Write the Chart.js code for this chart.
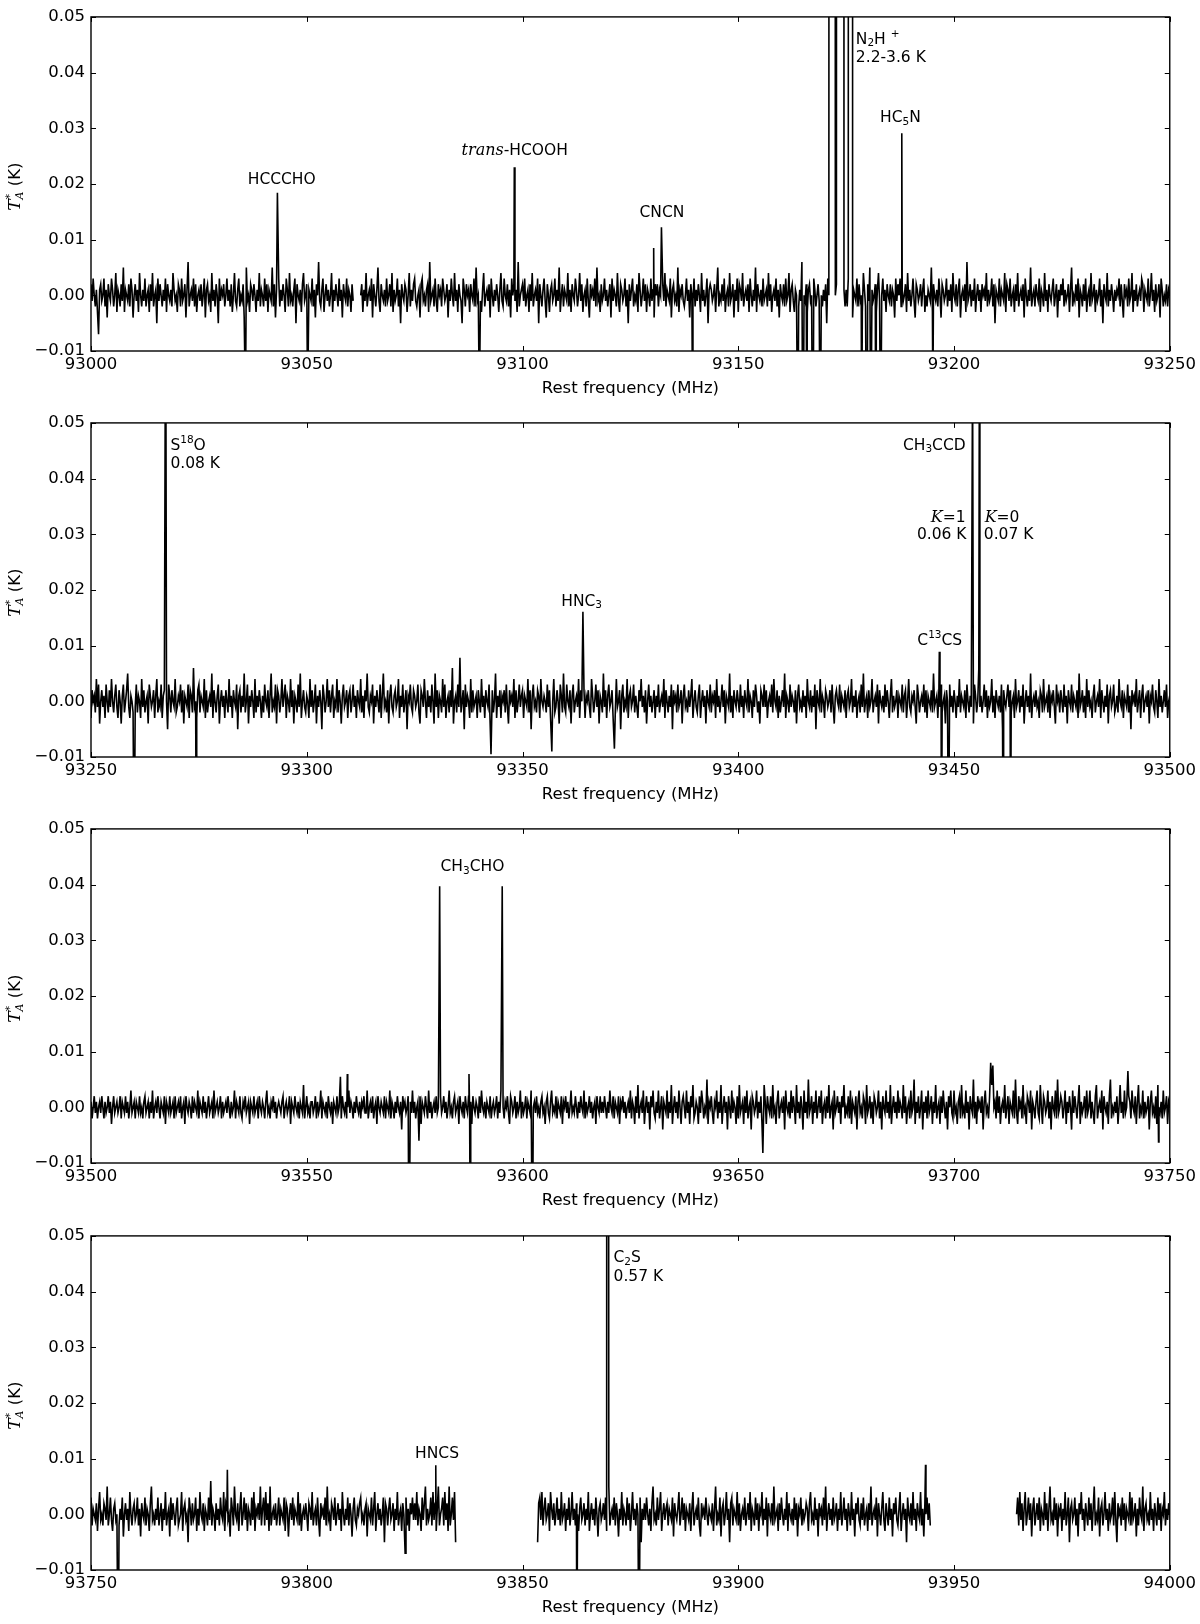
<!DOCTYPE html>
<html>
<head>
<meta charset="utf-8">
<title>Line survey 93.0 - 94.0 GHz</title>
<script src="https://cdn.jsdelivr.net/npm/chart.js@4.4.0/dist/chart.umd.min.js"></script>
<style>
html, body { margin: 0; padding: 0; background: #fff; overflow: hidden; }
.panel { position: absolute; left: 0; width: 1200px; height: 406px; }
</style>
</head>
<body>
<div class="panel" style="top:1px"><canvas id="c1" width="1200" height="406"></canvas></div>
<div class="panel" style="top:407px"><canvas id="c2" width="1200" height="406"></canvas></div>
<div class="panel" style="top:813px"><canvas id="c3" width="1200" height="406"></canvas></div>
<div class="panel" style="top:1220px"><canvas id="c4" width="1200" height="406"></canvas></div>
<script>
var STEP = 0.25; // channel spacing in MHz, noise values below are in mK

// ---- panel 1 : 93000 - 93250 MHz
var p1Range = [93000, 93250];
var p1StartA = 93000;
var p1NoiseA = [
  2,-1,3,0,-2,1,-3,-7,1,2,-1,0,3,-2,1,-4,2,0,-1,3,1,-2,0,4,-3,
  1,0,-2,2,-1,5,-3,1,0,-1,2,-2,3,1,-4,0,2,-1,1,-3,4,0,-2,1,-1,
  3,-2,0,1,-3,2,-1,4,-2,0,1,-5,3,-1,2,0,-2,1,-1,3,-3,2,0,-1,1,
  -2,4,1,-1,0,-3,2,1,-2,3,-1,0,2,-4,1,6,-2,0,1,-1,3,-2,2,-3,0,
  1,-1,2,-2,0,3,-4,1,2,-1,0,-3,4,-1,1,-2,2,0,-5,3,-1,1,0,2,-2,
  0,3,-1,1,-2,2,-3,0,4,-1,-2,1,3,-2,0,-1,2,-4,1,5,-1,0,-3,2,1,
  -1,2,0,-3,1,-1,4,-2,1,0,-2,3,-1,2,-3,1,0,-1,5,-2,2,-4,1,0,3,
  -2,1,-1,2,0,-3,3,1,-2,4,-1,0,-2,1,3,-5,2,0,-1,1,-3,2,4,-1,0,
  2,-3,1,0,-1,3,-2,1,-4,2,0,6,-1,-2,1,3,-3,0,2,-1,1,-2,0,4,-3,
  1,-1,2,0,-2,3,-1,1,-4,2,0,-1,3,-2,1,0,-3,2,-1
];
var p1StartB = 93062.5;
var p1NoiseB = [
  0,2,-3,1,-1,4,-2,0,1,-1,3,-4,2,0,-2,1,5,-1,-3,2,0,-1,1,-2,3,
  -1,0,2,-2,4,-3,1,-1,0,3,-2,1,-5,2,0,-1,2,1,-3,0,4,-2,1,-1,2,
  3,-1,-2,0,1,-4,2,3,-1,0,-2,1,2,-3,6,-1,0,1,-2,3,-1,-3,2,0,1,
  -2,3,1,-1,0,2,-4,1,-1,3,0,-2,4,-1,1,-3,2,0,-1,-5,3,1,-2,2,0,
  1,-3,2,0,-1,3,-2,5,-1,0,2,-1,-3,1,4,-2,0,1,-1,2,-4,3,0,-2,1,
  -1,2,0,-3,1,4,-1,-2,3,0,-1,2,-2,1,-4,3,0,2,-1,1,-3,6,-2,0,1,
  2,-1,3,-2,0,1,-3,2,-1,4,-2,0,1,-1,3,-5,2,0,-2,1,3,-1,-4,2,0,
  -3,1,2,-1,0,3,-2,1,-1,5,-3,0,2,-2,1,0,-1,4,-2,1,-3,2,0,-1,3,
  1,-2,0,4,-1,2,-3,0,1,-2,3,-1,-4,2,0,1,-1,3,-2,5,-1,0,-3,2,-1,
  0,3,-1,1,-2,0,2,-4,3,-1,1,0,-2,4,-1,-3,2,1,-1,0,3,-2,1,-5,2,
  -1,1,3,-2,0,-1,2,-3,4,1,-2,0,3,-1,2,-3,1,0,-2,3,-1,1,-4,2,0,
  2,-2,1,0,-3,2,-1,4,-2,1,0,-1,3,-4,1,2,-1,0,-2,5,-3,1,0,2,-1,
  -2,0,3,-1,1,-4,2,0,-1,3,-2,1,-1,2,0,-3,4,-1,1,-2,0,3,-5,1,2,
  1,-1,0,2,-3,1,5,-2,0,-1,2,-1,3,-3,0,1,-2,4,-1,0,2,-4,1,-1,3,
  -3,2,1,-1,4,-2,0,1,-1,2,-3,3,0,-2,1,-1,5,-3,2,0,-1,1,-2,3,-1,
  0,1,-2,4,-1,2,-3,0,1,-1,3,-2,1,-4,2,0,-1,2,-2,3,-1,0,4,-3,1,
  2,-1,-3,1,0,3,-2,1,-1,6,-2,0,-1,2,-3,1,2,-1,0,-4,3,1,-2,0,2,
  -1,3,0,-2,1,-1,2,-5,3,0,-1,1,-2,4,-1,0,2,-3,1,-1,3,-2,0,1,-2,
  1,-2,3,-1,0,2,-4,1,0,-1,3,-2,2,-1,0,-3,4,1,-2,0,2,-1,5,-3,1,
  -1,0,2,-3,1,4,-1,-2,0,3,-1,1,-3,2,0,-1,2,-2,1,0,-4,3,-1,2,0,
  3,-2,1,-1,0,2,-3,4,-1,1,-2,0,3,-1,-4,2,1,-1,0,2,-2,1,3,-3,0,
  -2,1,0,-1,5,-3,2,0,-1,1,-2,3,0,-4,2,1,-1,0,3,-2,1,-1,2,-3,4,
  0,-1,2,-2,1,3,-4,0,1,-1,2,-3,6,-1,0,2,-2,1,-1,3,-3,0,2,-1,1,
  -3,2,0,1,-1,4,-2,1,-1,0,3,-2,2,-5,1,0,-1,3,-2,1,0,-1,4,-3,2,
  1,-1,3,-2,0,1,-3,2,-1,4,-2,0,1,-1,2,-4,3,0,-2,1,-1,5,-2,0,1,
  -2,2,0,-1,3,-3,1,0,-2,4,-1,1,-3,2,0,-1,1,3,-2,0,2,-4,1,-1,2,
  0,3,-2,1,-1,0,2,-3,1,5,-2,0,-1,2,-1,3,-4,1,0,-2,2,-1,3,-3,0,
  1,-2,4,-1,0,2,-3,1,-1,0,3,-2,1,-5,2,0,-1,4,-2,1,-1,2,0,-3,1,
  -1,1,0,3,-2,2,-1,-4,2,0,1,-2,3,-1,0,4,-3,1,-1,2,-2,0,1,-1,3,
  2,-3,1,0,-1,3,-2,0,4,-1,1,-3,2,-1,0,2,-4,3,1,-2,0,-1,2,-2,1,
  0
];
// lines and frequency-switching ghosts: [[MHz, K], ...]
var p1Lines = [
  [[93035.8, -0.02]], [[93043.2, 0.0184]], [[93050.2, -0.02]],
  [[93090.0, -0.02]], [[93098.1, 0.023]],
  [[93132.2, 0.0122]], [[93139.4, -0.02]],
  [[93163.8, -0.03]], [[93165.0, -0.04]], [[93165.9, -0.03]], [[93167.3, -0.04]], [[93169.0, -0.03]],
  [[93171.2, 1.0], [93171.7, 2.2], [93172.2, 1.0]],
  [[93173.0, 1.2], [93173.7, 2.8], [93174.3, 1.2]],
  [[93175.8, 2.0], [93176.05, 3.6], [93176.3, 2.0]],
  [[93178.6, -0.03]], [[93179.8, -0.04]], [[93180.7, -0.03]], [[93181.9, -0.04]], [[93183.0, -0.03]],
  [[93187.9, 0.0291]], [[93195.1, -0.02]]
];
var p1Spikes = [[[93130.4, 0.0085]]];
var p1Labels = [
  { x: 93044.2, y: 0.0208, align: 'center', parts: [['HCCCHO']] },
  { x: 93098.2, y: 0.0259, align: 'center', parts: [['trans', 'it'], ['-HCOOH']] },
  { x: 93132.3, y: 0.0148, align: 'center', parts: [['CNCN']] },
  { x: 93177.25, y: 0.0459, align: 'left', parts: [['N'], ['2', 'sub'], ['H '], ['+', 'sup']] },
  { x: 93177.25, y: 0.0426, align: 'left', parts: [['2.2-3.6 K']] },
  { x: 93187.6, y: 0.0318, align: 'center', parts: [['HC'], ['5', 'sub'], ['N']] }
];

// ---- panel 2 : 93250 - 93500 MHz
var p2Range = [93250, 93500];
var p2Start = 93250;
var p2Noise = [
  -3,2,0,1,-2,4,-1,3,-4,0,2,-1,1,-3,3,0,-2,2,-1,4,0,-2,1,3,-1,
  -3,2,0,-4,1,3,-2,0,2,5,-1,-3,1,0,-2,2,-1,3,-2,1,0,-3,4,-1,2,
  -2,0,1,-4,3,1,-1,0,2,-3,1,4,-2,0,-1,3,-3,1,2,-1,0,-5,3,1,-2,
  2,0,-1,4,-2,-1,1,0,3,-2,2,-4,1,0,-1,3,-3,2,1,-2,6,-1,0,-3,2,
  3,-2,1,0,-1,4,-3,2,-2,0,1,-1,5,-3,2,0,-2,1,3,-4,0,2,-1,1,-3,
  2,0,-2,4,-1,1,-3,2,0,-1,3,-5,1,2,-2,1,-1,5,-2,0,3,-4,1,-1,2,
  0,-3,4,-2,1,-1,2,0,-3,1,-2,3,0,-1,2,-3,1,5,-2,0,-1,3,-4,2,1,
  -2,0,4,-1,1,3,-3,1,0,-2,4,-1,2,-4,1,0,-2,3,-1,5,-3,0,2,-1,-2,
  1,0,-3,4,-1,2,-2,0,3,-4,1,-1,2,0,-5,3,1,-2,0,4,-1,2,-2,1,3,
  -3,0,-1,4,-2,2,0,-4,1,3,-1,0,2,-3,1,2,-2,0,3,-1,1,-3,2,0,-1,
  4,-2,1,-3,2,0,5,-1,-2,1,0,3,-4,1,-1,2,0,-2,3,-3,1,5,-1,0,-2,
  2,-4,1,3,-1,-2,1,2,-1,0,4,-3,1,-1,3,-2,0,2,-5,1,0,3,-1,-2,2,
  1,-1,0,3,-2,-4,2,1,-1,4,0,-3,2,-1,1,-2,3,0,-4,5,-1,2,-3,1,0,
  -2,4,-1,3,-3,0,1,-2,2,-1,6,-4,0,1,-2,3,-1,1,-2,0,2,-5,3,-1,1,
  0,-3,4,-2,2,-1,0,1,-3,2,0,-2,4,-1,1,-3,2,0,-1,3,-4,1,2,-2,0,
  5,-3,1,-1,2,-3,1,0,2,-2,3,-1,-4,2,0,1,-1,4,-3,2,-2,0,3,-1,1,
  2,-3,1,0,-1,4,-2,2,-5,1,3,-1,0,-2,2,1,-3,4,0,-1,1,0,-2,3,-1,
  2,-3,1,0,4,-2,-1,2,0,-4,3,1,-2,5,-1,-2,3,0,-1,2,-4,1,3,-2,0,
  1,-1,4,-3,2,0,-1,2,-3,1,0,2,-1,-3,4,1,-2,0,3,-1,2,-4,1,0,-2,
  5,-1,2,-3,1,3,-1,0,2,-3,1,-2,4,-1,0,2,-5,1,3,-2,0,-1,4,-3,1,
  2,-1,0,3,-2,1,-1,-3,2,0,4,-1,1,-2,2,-4,0,3,-1,1,-2,0,2,-3,1,
  -1,3,-2,0,1,-1,4,-3,2,0,-2,1,-1,3,-5,2,0,1,-2,3,-1,0,2,-4,1,
  3,-1,0,-2,2,-1,1,4,-3,0,2,-1,-2,1,3,-3,0,2,-1,1,-4,2,0,-1,3,
  -2,1,0,2,-3,4,-1,1,-2,0,3,-1,2,-4,1,0,-1,5,-2,1,-3,2,0,-1,2,
  0,-2,3,-1,1,-3,2,0,-1,4,-2,1,0,-3,2,-1,3,1,-2,0,-4,2,1,-1,3,
  -1,2,-3,0,1,-1,3,-2,4,0,-1,2,-3,1,-2,0,2,-1,5,-3,1,0,-2,3,-1,
  1,0,-2,2,-4,1,3,-1,0,-2,2,-1,1,-3,4,0,-1,2,-2,1,-1,3,-5,2,0,
  -1,4,-2,1,0,-3,2,1,-1,0,2,-2,3,-1,-4,1,2,0,-1,3,-2,1,0,-1,2,
  -3,1,2,-1,0,4,-2,1,-1,2,-3,0,1,-2,3,-1,5,-2,0,1,-3,2,-1,0,4,
  -2,0,1,-1,3,-4,2,0,-1,1,-2,3,-1,2,0,-3,1,4,-2,1,-1,0,2,-3,1,
  0,-1,3,-2,1,2,-3,0,4,-1,-2,1,0,2,-1,-4,3,1,-2,0,1,-1,3,-2,2,
  -3,1,0,-1,2,-2,5,-1,0,1,-3,2,-1,3,-2,0,1,-4,2,0,-1,3,-1,1,-2,
  2,0,-3,1,-1,4,-2,1,0,-1,2,-3,3,0,-2,1,-1,2,-4,3,1,-2,0,6,-1,
  1,-2,0,3,-1,2,-3,1,-1,0,4,-2,1,-3,2,0,-1,1,-2,3,-5,2,0,-1,1,
  3,-1,2,-2,0,1,-3,4,-1,0,2,-2,1,-1,3,-4,0,2,-1,1,-2,5,-3,0,1,
  -1,2,-1,0,-3,2,1,-2,4,-1,0,1,-2,3,-3,1,0,2,-1,-4,3,0,1,-2,2,
  0,-2,3,-1,1,-4,2,0,-1,3,-2,1,0,-1,2,-3,5,-1,0,2,-2,1,-3,4,-1,
  2,-1,0,-3,1,3,-2,0,1,-1,4,-3,2,0,-2,1,-1,3,-4,1,2,-1,0,3,-2,
  -1,1,-2,4,0,-1,2,-3,1,0,-1,3,-2,1,-5,2,0,1,-1,4,-2,0,2,-3,1,
  3,-2,0,1,-1,2,-4,1,0,3,-1,-2,2,0,-3,4,-1,1,-2,0,2,-1,3,-3,0,
  1
];
var p2Lines = [
  [[93260.0, -0.03]], [[93267.3, 0.08]], [[93274.4, -0.03]],
  [[93342.7, -0.0095]],
  [[93356.8, -0.009]], [[93364.0, 0.0161]], [[93371.3, -0.0085]],
  [[93446.6, 0.0089]], [[93447.1, -0.03]], [[93448.7, -0.03]],
  [[93454.3, 0.06]], [[93455.9, 0.07]],
  [[93461.4, -0.03]], [[93463.1, -0.03]]
];
var p2Spikes = [[[93335.5, 0.0078]]];
var p2Labels = [
  { x: 93268.4, y: 0.0459, align: 'left', parts: [['S'], ['18', 'sup'], ['O']] },
  { x: 93268.4, y: 0.0426, align: 'left', parts: [['0.08 K']] },
  { x: 93363.7, y: 0.0179, align: 'center', parts: [['HNC'], ['3', 'sub']] },
  { x: 93446.7, y: 0.0109, align: 'center', parts: [['C'], ['13', 'sup'], ['CS']] },
  { x: 93452.7, y: 0.0459, align: 'right', parts: [['CH'], ['3', 'sub'], ['CCD']] },
  { x: 93452.7, y: 0.0329, align: 'right', parts: [['K', 'it'], ['=1']] },
  { x: 93452.9, y: 0.0298, align: 'right', parts: [['0.06 K']] },
  { x: 93457.1, y: 0.0329, align: 'left', parts: [['K', 'it'], ['=0']] },
  { x: 93456.9, y: 0.0298, align: 'left', parts: [['0.07 K']] }
];

// ---- panel 3 : 93500 - 93750 MHz
var p3Range = [93500, 93750];
var p3Start = 93500;
var p3Noise = [
  1,-2,0,2,-1,1,-2,0,1,-1,2,0,-2,1,-1,0,2,-1,1,-3,0,2,-1,0,1,
  -1,0,2,-2,1,0,-1,2,-1,1,-2,0,3,-1,0,1,-2,1,0,-1,2,-1,0,-2,1,
  2,-1,0,1,-2,1,-1,3,-2,0,1,-1,2,0,-2,1,0,-1,2,-3,1,0,-1,2,-1,
  0,1,-2,2,-1,0,1,-1,2,-2,0,1,-3,2,0,-1,1,0,-2,2,-1,1,0,-1,3,
  -2,1,0,-1,2,-1,1,-2,0,2,-1,0,1,-2,3,-1,0,1,-1,0,2,-2,1,-1,0,
  1,-1,2,0,-2,1,-1,0,3,-2,1,0,-1,2,-1,-2,1,0,2,-1,0,1,-3,1,0,
  -1,2,-1,0,1,-2,2,0,-1,1,0,-2,1,3,-1,0,-2,1,0,2,-1,1,-2,0,1,
  0,-1,1,2,-2,0,1,-1,0,2,-3,1,0,-1,2,0,-1,1,-2,1,0,-1,4,-2,0,
  2,-1,0,-2,1,1,-1,0,2,-2,1,-1,0,3,-2,1,0,-1,1,-2,2,0,-1,1,-3,
  1,0,-1,2,-1,0,1,-2,2,0,-1,1,-2,0,3,-1,1,0,-2,1,-1,2,0,-1,1,
  -2,1,0,2,-1,-1,3,-2,0,1,-1,2,-2,0,1,-3,2,0,-1,1,0,-1,2,-2,1,
  0,-1,3,-2,1,0,-2,1,-1,2,0,-1,1,-4,2,0,1,-1,0,2,-2,1,-1,3,-1,
  1,-2,0,1,-1,2,-3,1,0,-1,2,0,-2,3,-1,1,-2,0,1,-1,2,-1,0,-2,2,
  -1,0,2,-1,1,-2,0,3,-1,0,-2,1,2,-1,0,1,-3,2,0,-1,1,-2,2,0,-1,
  2,-1,1,-3,2,0,-1,1,0,-2,2,-1,3,0,-1,1,-2,1,0,-1,2,-2,0,1,-1,
  0,2,-2,1,-1,3,-1,0,-2,1,0,2,-1,-3,2,1,-1,0,2,-2,1,-1,0,3,-2,
  1,-1,0,2,-2,1,0,-1,3,-2,0,1,-1,2,-1,0,-2,1,2,-1,0,-3,1,2,-1,
  -2,1,3,-1,0,-1,2,-2,1,0,-1,2,-3,1,0,2,-1,1,-2,0,3,-1,0,-1,2,
  0,-2,1,-1,2,0,-1,3,-2,1,-1,0,2,-1,1,-2,0,1,-3,2,0,-1,2,-1,1,
  -1,2,0,-2,1,-1,3,0,-1,2,-2,1,0,-1,2,-3,1,0,2,-1,1,-2,0,1,-1,
  3,-2,1,0,-3,2,-1,4,-2,0,1,-1,3,-3,0,2,-1,1,-4,2,0,3,-1,-2,1,
  -1,3,-2,0,2,-4,1,0,-1,3,-2,1,-1,4,-3,0,2,-1,1,-2,3,0,-3,1,2,
  0,-2,3,-1,1,-3,2,0,4,-2,-1,1,0,-3,2,-1,3,1,-2,0,-1,5,-3,1,0,
  2,-1,-3,1,0,3,-2,1,-1,4,-3,0,2,-1,1,-4,2,0,-2,3,-1,1,0,-3,2,
  -2,4,-1,0,1,-3,2,-1,3,-2,0,1,-4,2,1,-1,0,3,-2,1,-1,2,-3,0,4,
  1,-3,2,0,-1,2,-2,4,-1,0,-3,1,3,-2,0,1,-1,2,-4,3,0,-1,1,-2,3,
  -1,2,0,-3,4,-1,1,-2,2,0,-4,3,-1,1,-2,5,-1,0,2,-3,1,-1,3,-2,0,
  2,-1,3,-3,0,1,-2,2,-1,4,-2,0,1,-4,3,-1,0,2,-1,1,-3,2,0,4,-2,
  0,-1,2,-2,3,-3,1,0,-1,2,-4,1,3,-1,0,-2,2,1,-3,4,-1,0,2,-2,1,
  -3,2,1,-1,0,3,-2,1,-4,2,0,-1,3,-1,1,-2,4,-3,0,2,-1,1,-2,3,-1,
  1,0,-2,4,-1,2,-3,0,1,-2,3,-1,0,5,-3,1,-1,2,-2,0,3,-4,1,-1,2,
  -2,3,-1,0,2,-3,1,-1,4,-2,0,1,-3,2,-1,3,0,-2,1,-4,2,0,3,-1,-2,
  3,-1,0,-3,1,2,-2,4,-1,0,-2,3,-1,1,-4,2,0,-1,5,-2,1,-3,2,0,1,
  -1,2,-4,1,3,-1,0,-2,2,-1,4,-3,0,1,-2,3,-1,2,-3,0,1,-1,4,-2,0,
  2,-3,1,0,-1,3,-2,5,-1,-3,2,0,1,-2,4,-1,0,-3,2,1,-1,3,-4,1,0,
  -2,1,3,-1,-2,4,0,-3,2,1,-1,0,3,-2,1,-4,2,0,-1,3,-2,5,-1,0,2,
  1,-2,0,3,-3,1,-1,2,0,-4,3,-1,2,0,-2,1,4,-3,1,-1,0,2,-2,3,-1,
  0,3,-2,1,-1,-3,2,4,-2,0,1,-1,3,-4,2,0,-1,1,-3,2,5,-2,0,-1,1,
  -1,2,-3,0,4,-1,1,-2,3,-1,0,-4,2,1,-2,3,0,-1,2,-3,1,4,-2,0,-1,
  3,-2,1,-1,0,2,-4,1,3,-1,0,-2,2,-3,4,0,-1,1,-2,3,-1,0,2,-3,1,
  0
];
var p3Lines = [
  [[93573.7, -0.03]], [[93580.8, 0.0397]], [[93587.9, -0.03]],
  [[93595.3, 0.0397]], [[93602.3, -0.03]]
];
var p3Spikes = [
  [[93557.8, 0.0055]], [[93559.4, 0.006]], [[93576.0, -0.006]], [[93587.6, 0.006]],
  [[93655.7, -0.0082]], [[93708.5, 0.008]], [[93709.0, 0.0075]], [[93740.3, 0.0065]],
  [[93747.4, -0.0062]]
];
var p3Labels = [
  { x: 93588.4, y: 0.0431, align: 'center', parts: [['CH'], ['3', 'sub'], ['CHO']] }
];

// ---- panel 4 : 93750 - 94000 MHz
var p4Range = [93750, 94000];
var p4StartA = 93750;
var p4NoiseA = [
  3,-2,1,0,-1,2,-3,1,4,-1,0,-2,2,1,-1,5,-2,0,3,-1,-3,1,2,-1,0,
  2,-2,1,-1,3,-4,0,2,-1,1,-3,4,0,-2,1,2,-1,0,3,-2,1,-4,2,0,-1,
  3,-2,1,0,-3,2,5,-1,0,-2,1,-1,3,-2,0,2,-3,1,-1,4,-2,0,1,-4,3,
  -1,2,0,-2,1,3,-2,-1,0,4,-3,1,2,-1,0,-5,3,1,-2,2,-1,0,3,-3,1,
  -2,4,0,-1,2,-3,1,0,-2,3,-1,6,-2,1,0,-3,2,-1,1,-2,3,0,-1,4,-3,
  2,1,-1,0,-4,3,1,-2,5,0,-1,2,-3,1,4,-2,0,3,-1,2,-3,1,0,-2,3,
  -1,4,-3,1,0,2,-1,5,-2,1,3,-2,4,-1,2,-3,5,-2,0,1,-1,2,-2,0,3,
  -2,1,0,-1,3,-3,2,1,-4,0,2,-1,3,-2,1,0,-1,4,-2,2,-3,0,1,-1,2,
  0,-3,2,1,-1,4,-2,0,1,-2,3,-1,-4,2,0,1,-1,3,-2,5,-1,0,-3,2,1,
  -1,3,-2,0,2,-1,1,-3,4,0,-2,1,-1,3,-2,2,0,-4,1,3,-1,-2,1,0,2,
  3,-1,0,-2,1,2,-4,1,0,-1,3,-2,1,4,-3,0,2,-1,1,-2,0,3,-5,2,1,
  -2,1,3,-1,0,2,-3,1,-1,4,-2,0,1,-3,2,0,-1,3,-2,1,-3,2,0,3,-1,
  2,-1,4,-2,1,0,-3,3,-1,2,5,-2,1,-1,0,3,-2,4,-1,2,-3,1,5,-2,0,
  1,3,-2,4,-1,2,-3,5,-2,0,3,-1,4,-5
];
var p4StartB = 93853.5;
var p4NoiseB = [
  -5,2,3,-1,4,-2,1,3,-1,0,2,-3,4,1,-1,2,-2,0,3,-1,1,-2,4,-1,0,
  2,-3,1,-1,3,-2,0,4,-1,1,-2,2,0,-3,1,3,-1,0,2,-2,1,-1,4,-3,0,
  2,-1,1,-2,3,0,-4,1,2,-1,0,2,-1,3,-3,1,5,-2,0,1,-1,3,-2,2,0,
  -4,1,-1,4,-2,1,0,-2,3,-1,2,-3,0,4,-1,1,-2,2,0,-1,3,-5,1,-1,2,
  -1,3,0,-2,1,-3,2,5,-1,0,-2,3,-1,1,4,-3,0,2,-1,1,2,-2,1,0,-1,
  3,-4,2,0,-1,1,4,-2,0,3,-1,2,-3,1,0,-1,2,-3,1,4,-2,0,1,-1,3,
  -2,-4,2,0,1,-1,3,0,-2,1,0,-1,2,-3,1,5,-2,0,-1,3,-4,1,2,-2,0,
  4,-1,1,-5,2,3,-2,1,0,-1,4,-2,2,-3,0,1,-1,3,-2,0,2,-1,4,-3,1,
  0,-2,3,-1,2,-3,1,0,4,-2,1,-1,3,-4,2,0,-1,2,-2,5,-1,0,1,-3,2,
  -1,3,0,-2,1,-1,4,-3,2,0,-1,1,-2,3,-1,2,-4,1,0,3,-2,1,-1,0,2,
  1,-3,2,4,-1,0,-2,3,-1,1,-4,2,0,1,-2,3,-1,5,-3,0,2,-1,1,-2,3,
  -1,0,2,-3,1,-1,4,-2,0,3,-1,1,-3,2,0,-2,4,-1,1,-4,2,0,3,-1,-2,
  2,-1,3,-2,0,1,-3,2,-1,5,-2,0,1,-1,3,-4,2,0,-2,1,4,-1,-3,2,0,
  -2,3,-1,1,-4,2,0,3,-1,-2,1,4,-3,0,2,-1,1,-5,3,0,-1,2,-2,4,-1,
  1,-3,2,0,-1,4,-2,1,-4,2,0,3,-1,2,-2
];
var p4StartC = 93964.5;
var p4NoiseC = [
  0,3,-2,4,-1,2,-3,1,4,-2,0,3,-1,2,-4,1,3,-2,0,2,-1,3,-3,1,0,
  -2,4,-1,2,-3,1,5,-1,0,-2,3,-1,2,-4,1,0,2,-3,1,-1,4,-2,0,3,-5,
  1,2,-1,0,3,-2,1,-4,2,0,4,-1,1,-3,2,0,-2,3,-1,2,-3,1,5,-2,0,
  -1,3,-4,1,2,-2,0,4,-1,1,-3,2,-1,0,3,-2,4,-1,-5,2,0,1,-2,3,-1,
  2,-3,1,0,-1,4,-2,3,-1,0,2,-4,1,-2,3,0,-1,5,-3,1,2,-1,0,-2,4,
  -1,1,-3,2,0,-2,3,-1,2,-3,1,0,4,-2,1,-1,2,0
];
var p4Lines = [
  [[93756.3, -0.03]], [[93829.9, 0.0088]],
  [[93862.6, -0.03]],
  [[93869.6, 0.4], [93869.7, 0.57], [93869.8, 0.4]],
  [[93877.0, -0.03]]
];
var p4Spikes = [[[93781.6, 0.008]], [[93822.8, -0.007]], [[93943.4, 0.0089]]];
var p4Labels = [
  { x: 93830.2, y: 0.0109, align: 'center', parts: [['HNCS']] },
  { x: 93871.1, y: 0.046, align: 'left', parts: [['C'], ['2', 'sub'], ['S']] },
  { x: 93871.1, y: 0.0427, align: 'left', parts: [['0.57 K']] }
];

var yTicks = [-0.01, 0.0, 0.01, 0.02, 0.03, 0.04, 0.05];
var xTitle = 'Rest frequency (MHz)';

// builds the spectrum points: noise segments, gaps between them, lines on top
function buildSpectrum(segs, lines) {
  var pts = [];
  segs.forEach(function(seg, k) {
    if (k > 0) {
      pts.push({ x: seg[0] - STEP / 2, y: null });
    }
    seg[1].forEach(function(v, i) {
      pts.push({ x: seg[0] + i * STEP, y: v / 1000 });
    });
  });
  lines.forEach(function(prof) {
    var lo = prof[0][0], hi = prof[prof.length - 1][0];
    pts = pts.filter(function(p) { return p.y === null || p.x < lo - 0.05 || p.x > hi + 0.05; });
    prof.forEach(function(p) { pts.push({ x: p[0], y: p[1] }); });
  });
  pts.sort(function(a, b) { return a.x - b.x; });
  return pts;
}

function fontFor(style) {
  if (style === 'it') return 'italic 16px "DejaVu Serif"';
  if (style === 'sub' || style === 'sup') return '10.5px "DejaVu Sans"';
  return '15.5px "DejaVu Sans"';
}

function drawRich(ctx, parts, x, y, align) {
  var w = 0;
  parts.forEach(function(p) { ctx.font = fontFor(p[1]); w += ctx.measureText(p[0]).width; });
  var cx = align === 'left' ? x : (align === 'right' ? x - w : x - w / 2);
  ctx.textAlign = 'left';
  ctx.textBaseline = 'middle';
  parts.forEach(function(p) {
    ctx.font = fontFor(p[1]);
    var dy = p[1] === 'sub' ? 4 : (p[1] === 'sup' ? -5 : 0);
    ctx.fillText(p[0], cx, y + dy);
    cx += ctx.measureText(p[0]).width;
  });
}

// frame, inward ticks on all sides, y title and the line labels
function framePlugin(labels) {
  return {
    id: 'frame',
    afterDraw: function(chart) {
      var ctx = chart.ctx, a = chart.chartArea, sx = chart.scales.x, sy = chart.scales.y;
      ctx.save();
      ctx.strokeStyle = '#000';
      ctx.lineWidth = 1;
      ctx.beginPath();
      sx.ticks.forEach(function(t) {
        var px = Math.round(sx.getPixelForValue(t.value)) + 0.5;
        ctx.moveTo(px, a.top); ctx.lineTo(px, a.top + 5);
        ctx.moveTo(px, a.bottom); ctx.lineTo(px, a.bottom - 5);
      });
      sy.ticks.forEach(function(t) {
        var py = Math.round(sy.getPixelForValue(t.value)) + 0.5;
        ctx.moveTo(a.left, py); ctx.lineTo(a.left + 5, py);
        ctx.moveTo(a.right, py); ctx.lineTo(a.right - 5, py);
      });
      ctx.stroke();
      ctx.lineWidth = 1.4;
      ctx.strokeRect(a.left, a.top, a.right - a.left, a.bottom - a.top);

      ctx.fillStyle = '#000';
      labels.forEach(function(l) {
        drawRich(ctx, l.parts, sx.getPixelForValue(l.x), sy.getPixelForValue(l.y), l.align);
      });

      // y axis title: T*_A (K)
      ctx.translate(16, (a.top + a.bottom) / 2);
      ctx.rotate(-Math.PI / 2);
      var parts = [['T', 'italic 17px "DejaVu Serif"', 0], ['*', '11px "DejaVu Serif"', -6],
                   ['A', 'italic 11px "DejaVu Serif"', 4], [' (K)', '16.5px "DejaVu Sans"', 0]];
      var w = 0;
      parts.forEach(function(p) { ctx.font = p[1]; w += ctx.measureText(p[0]).width; });
      var cx = -w / 2;
      ctx.textBaseline = 'middle';
      ctx.textAlign = 'left';
      parts.forEach(function(p, i) {
        ctx.font = p[1];
        ctx.fillText(p[0], cx, p[2]);
        // subscript sits under the superscript
        if (i !== 1) cx += ctx.measureText(p[0]).width;
      });
      ctx.restore();
    }
  };
}

function makeChart(id, range, segs, lines, labels) {
  var tickFont = { family: 'DejaVu Sans', size: 16.5 };
  return new Chart(document.getElementById(id), {
    type: 'line',
    data: {
      datasets: [{
        data: buildSpectrum(segs, lines),
        borderColor: '#000',
        borderWidth: 1.6,
        pointRadius: 0,
        tension: 0,
        fill: false,
        spanGaps: false,
        clip: 0
      }]
    },
    options: {
      responsive: false,
      animation: false,
      devicePixelRatio: 1,
      layout: { padding: { left: 10, right: 30, top: 10, bottom: 0 } },
      plugins: { legend: { display: false }, tooltip: { enabled: false } },
      scales: {
        x: {
          type: 'linear',
          min: range[0],
          max: range[1],
          grid: { display: false, drawTicks: false },
          border: { display: false },
          ticks: {
            stepSize: 50, autoSkip: false, maxRotation: 0, padding: 4,
            color: '#000', font: tickFont,
            callback: function(v) { return String(v); }
          },
          title: {
            display: true, text: xTitle, color: '#000', font: tickFont,
            padding: { top: 0, bottom: 8 }
          },
          afterFit: function(s) { s.height = 56; }
        },
        y: {
          min: yTicks[0],
          max: yTicks[yTicks.length - 1],
          grid: { display: false, drawTicks: false },
          border: { display: false },
          afterBuildTicks: function(s) { s.ticks = yTicks.map(function(v) { return { value: v }; }); },
          ticks: {
            padding: 6, color: '#000', font: tickFont,
            callback: function(v) { return (v < -1e-9 ? '\u2212' : '') + Math.abs(v).toFixed(2); }
          },
          afterFit: function(s) { s.width = 81; }
        }
      }
    },
    plugins: [framePlugin(labels)]
  });
}

makeChart('c1', p1Range, [[p1StartA, p1NoiseA], [p1StartB, p1NoiseB]], p1Lines.concat(p1Spikes), p1Labels);
makeChart('c2', p2Range, [[p2Start, p2Noise]], p2Lines.concat(p2Spikes), p2Labels);
makeChart('c3', p3Range, [[p3Start, p3Noise]], p3Lines.concat(p3Spikes), p3Labels);
makeChart('c4', p4Range, [[p4StartA, p4NoiseA], [p4StartB, p4NoiseB], [p4StartC, p4NoiseC]], p4Lines.concat(p4Spikes), p4Labels);
</script>
</body>
</html>
